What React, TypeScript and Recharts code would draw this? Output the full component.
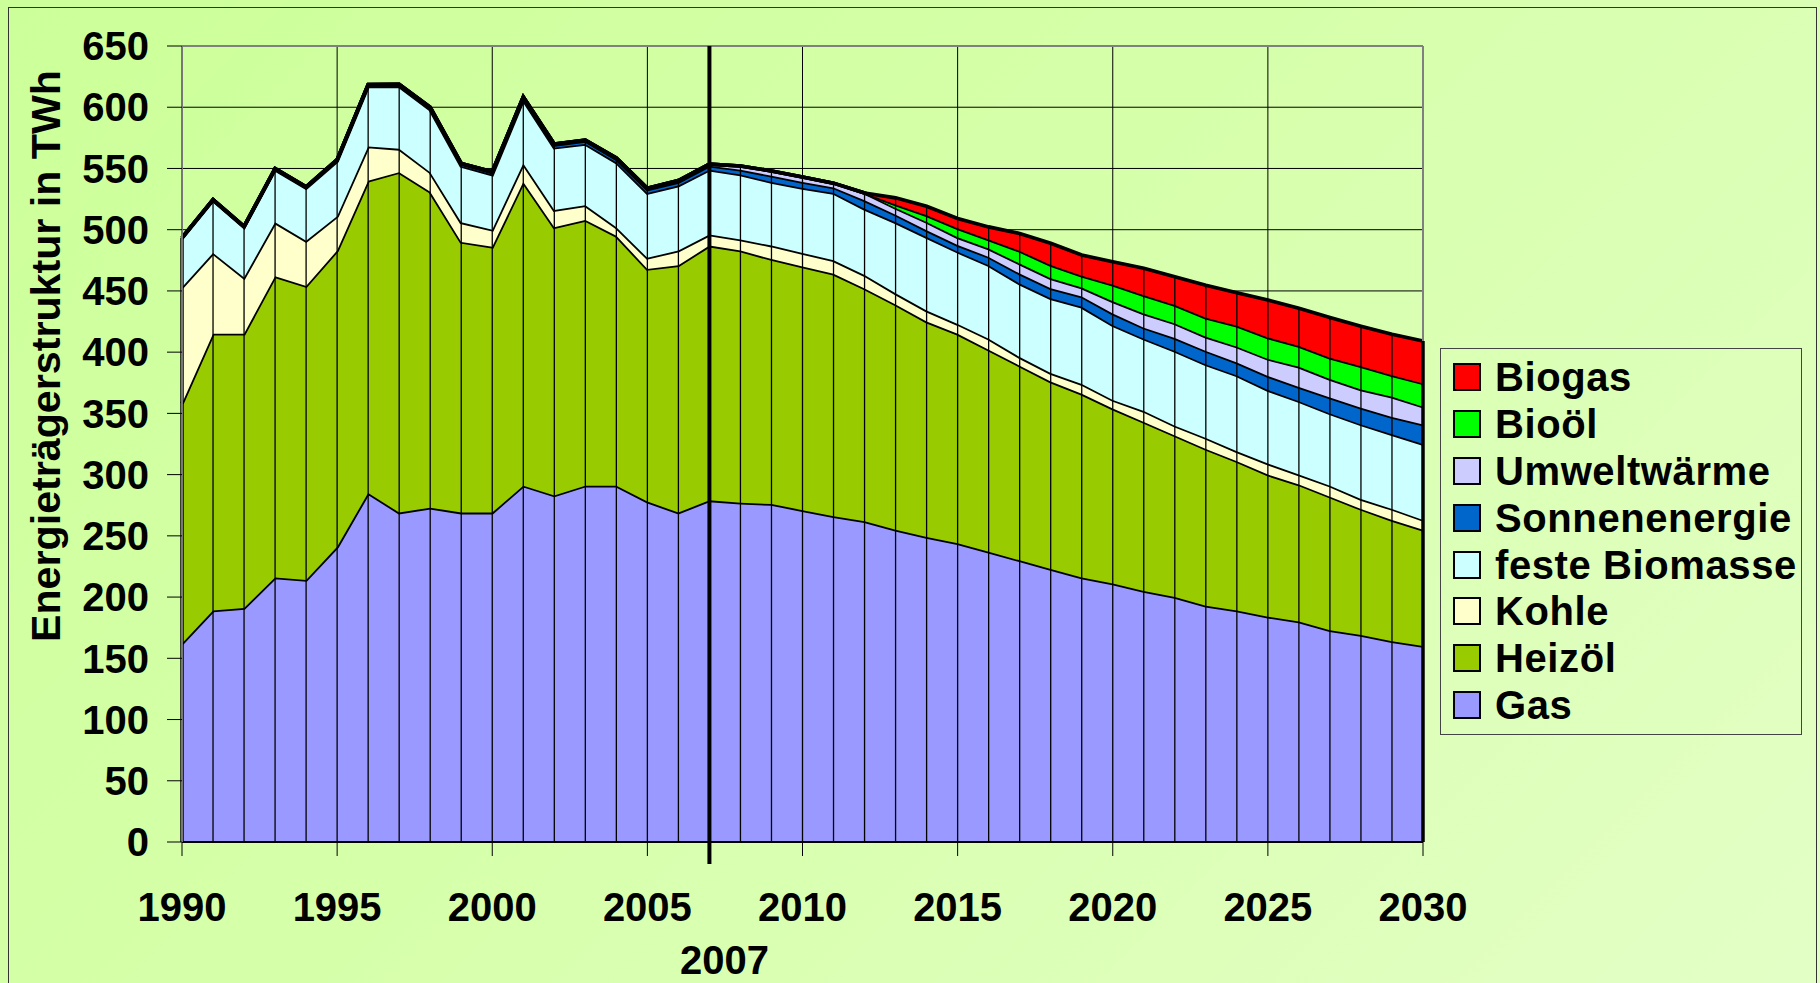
import { ComposedChart, Area, XAxis, YAxis, CartesianGrid, ReferenceLine } from "recharts";

// Jahre 1990–2030
const years = [
  1990, 1991, 1992, 1993, 1994, 1995, 1996, 1997, 1998, 1999, 2000, 2001, 2002, 2003,
  2004, 2005, 2006, 2007, 2008, 2009, 2010, 2011, 2012, 2013, 2014, 2015, 2016, 2017,
  2018, 2019, 2020, 2021, 2022, 2023, 2024, 2025, 2026, 2027, 2028, 2029, 2030,
];

// TWh je Energieträger (gestapelt, von unten nach oben)
const gas = [
  162, 189, 191, 216, 214, 241, 285, 269, 273, 269, 269, 291, 283, 291, 291, 278, 269, 279,
  277, 276, 271, 266, 262, 255, 249, 244, 237, 230, 223, 216, 211, 205, 200, 193, 189, 184, 180, 173, 169, 164, 160,
];
const heizoel = [
  196, 226, 224, 246, 240, 242, 255, 278, 258, 221, 217, 248, 219, 217, 204, 190, 202, 208,
  206, 200, 199, 198, 190, 184, 176, 171, 165, 159, 153, 150, 143, 138, 132, 128, 122, 116, 112, 109, 103, 99, 95,
];
const kohle = [
  95, 66, 46, 44, 37, 28, 28, 19, 16, 16, 14, 15, 14, 12, 7, 9, 12, 9,
  9, 11, 11, 11, 11, 9, 9, 8, 9, 7, 7, 8, 7, 9, 8, 9, 8, 9, 8, 9, 8, 9, 8,
];
const biomasse = [
  40, 43, 41, 43, 43, 45, 49, 51, 51, 46, 45, 52, 51, 50, 53, 53, 53, 53,
  53, 52, 53, 55, 54, 58, 60, 59, 60, 60, 61, 63, 61, 59, 61, 60, 62, 60, 60, 59, 61, 61, 62,
];
const sonne = [
  0.3, 0.4, 0.5, 0.6, 0.7, 0.9, 1.2, 1.4, 1.5, 1.6, 1.7, 1.9, 2.2, 2.4, 2.6, 2.8, 3, 3.2,
  4, 5, 5, 4.5, 7, 6.3, 5.5, 5.5, 6.8, 8.2, 8.1, 8.5, 9.5, 9, 10.5, 11, 10.5, 11.5, 11.5, 13, 13.5, 14, 16,
];
const umwelt = [
  0.2, 0.2, 0.2, 0.3, 0.3, 0.3, 0.4, 0.4, 0.5, 0.5, 0.6, 0.6, 0.7, 0.8, 0.9, 1, 1.1, 1.3,
  3, 4, 4, 3.5, 6, 5.5, 6.8, 6.3, 6.8, 8.1, 8.2, 7.3, 10, 11.5, 12, 11.5, 13, 14, 16.5, 15, 15, 16.5, 14.5,
];
const biooel = [
  0, 0, 0, 0, 0, 0, 0, 0, 0, 0, 0, 0, 0, 0, 0, 0, 0, 0,
  0, 0, 0, 0, 0, 2.7, 5.4, 7.4, 7.4, 10.4, 10.9, 9.5, 13.6, 15, 15, 15.5, 17, 17.5, 17, 17.5, 19, 17.7, 19,
];
const biogas = [
  0, 0, 0, 0, 0, 0, 0, 0, 0, 0, 0, 0, 0, 0, 0, 0, 0, 0,
  0, 0, 0, 0, 0, 5.5, 7.4, 8, 10.3, 14.2, 17.7, 17, 18.7, 22, 23, 26.7, 27, 30.5, 30.8, 32.8, 32.7, 33.5, 34.7,
];

const xTicks = [1990, 1995, 2000, 2005, 2010, 2015, 2020, 2025, 2030];
const yTicks = [0, 50, 100, 150, 200, 250, 300, 350, 400, 450, 500, 550, 600, 650];

const series = [
  { key: "gas", name: "Gas", color: "#9999FF", values: gas },
  { key: "heizoel", name: "Heizöl", color: "#99CC00", values: heizoel },
  { key: "kohle", name: "Kohle", color: "#FFFFCC", values: kohle },
  { key: "biomasse", name: "feste Biomasse", color: "#CCFFFF", values: biomasse },
  { key: "sonne", name: "Sonnenenergie", color: "#0066CC", values: sonne },
  { key: "umwelt", name: "Umweltwärme", color: "#CCCCFF", values: umwelt },
  { key: "biooel", name: "Bioöl", color: "#00FF00", values: biooel },
  { key: "biogas", name: "Biogas", color: "#FF0000", values: biogas },
];

const rows = years.map((year, i) => {
  const row: Record<string, number> = { year };
  series.forEach((s) => (row[s.key] = s.values[i]));
  return row;
});
const totals = years.map((_, i) => series.reduce((sum, s) => sum + s.values[i], 0));

const FONT = '"Liberation Sans", Arial, sans-serif';
const tickStyle = { fill: "#000", fontSize: 40, fontWeight: 700, fontFamily: FONT };

export default function App() {
  return (
    <div
      style={{
        position: "absolute",
        left: 0,
        top: 0,
        width: 1820,
        height: 983,
        overflow: "hidden",
        fontFamily: FONT,
        background: "linear-gradient(135deg, #ccff99 0%, #d6ffaa 45%, #e3ffc6 100%)",
      }}
    >
      <div
        style={{
          position: "absolute",
          left: 8,
          top: 7,
          width: 1807,
          height: 990,
          border: "1.5px solid #333",
        }}
      />

      <ComposedChart
        width={1820}
        height={983}
        data={rows}
        margin={{ top: 46, right: 397, left: 0, bottom: 0 }}
        style={{ position: "absolute", left: 0, top: 0 }}
      >
        <CartesianGrid stroke="#000" strokeWidth={1} />
        <XAxis
          type="number"
          dataKey="year"
          domain={[1990, 2030]}
          ticks={xTicks}
          interval={0}
          height={141}
          tickSize={14}
          tickMargin={37}
          tick={tickStyle}
          axisLine={{ stroke: "#000", strokeWidth: 2 }}
          tickLine={{ stroke: "#000" }}
        />
        <YAxis
          type="number"
          domain={[0, 650]}
          ticks={yTicks}
          interval={0}
          width={182}
          tickSize={15}
          tickMargin={18}
          tick={tickStyle}
          axisLine={{ stroke: "#777", strokeWidth: 2 }}
          tickLine={{ stroke: "#000" }}
        />

        {series.map((s) => (
          <Area
            key={s.key}
            dataKey={s.key}
            name={s.name}
            stackId="1"
            type="linear"
            fill={s.color}
            fillOpacity={1}
            stroke="#000"
            strokeWidth={3.6}
            dot={false}
            activeDot={false}
            isAnimationActive={false}
          />
        ))}

        <ReferenceLine y={650} stroke="#808080" strokeWidth={2} />
        <ReferenceLine x={2030} stroke="#808080" strokeWidth={2} />

        {years.map((yr, i) => (
          <ReferenceLine
            key={yr}
            segment={[
              { x: yr, y: 0 },
              { x: yr, y: totals[i] },
            ]}
            stroke="#000"
            strokeWidth={yr === 1990 || yr === 2030 ? 3.5 : 1.3}
          />
        ))}

        <ReferenceLine
          segment={[
            { x: 2007, y: -18 },
            { x: 2007, y: 650 },
          ]}
          ifOverflow="visible"
          stroke="#000"
          strokeWidth={4}
          label={{
            value: "2007",
            position: "bottom",
            offset: 82,
            dx: 15,
            fill: "#000",
            fontSize: 40,
            fontWeight: 700,
            fontFamily: FONT,
          }}
        />
      </ComposedChart>

      <svg
        width={120}
        height={983}
        style={{ position: "absolute", left: 0, top: 0, pointerEvents: "none" }}
      >
        <text
          x={60}
          y={356}
          transform="rotate(-90 60 356)"
          textAnchor="middle"
          textLength={572}
          lengthAdjust="spacingAndGlyphs"
          fontSize={40}
          fontWeight={700}
          fontFamily={FONT}
          fill="#000"
        >
          Energieträgerstruktur in TWh
        </text>
      </svg>

      <div
        style={{
          position: "absolute",
          left: 1440,
          top: 348,
          width: 362,
          height: 387,
          border: "1.5px solid #444",
          boxSizing: "border-box",
          paddingTop: 5,
          paddingLeft: 12,
        }}
      >
        {[...series].reverse().map((s) => (
          <div
            key={s.key}
            style={{ display: "flex", alignItems: "center", height: 46.8 }}
          >
            <span
              style={{
                width: 24,
                height: 24,
                background: s.color,
                border: "2px solid #000",
                marginRight: 14,
                flex: "none",
              }}
            />
            <span
              style={{
                fontSize: 40,
                fontWeight: 700,
                letterSpacing: 0.6,
                color: "#000",
                whiteSpace: "nowrap",
                lineHeight: 1,
              }}
            >
              {s.name}
            </span>
          </div>
        ))}
      </div>
    </div>
  );
}
